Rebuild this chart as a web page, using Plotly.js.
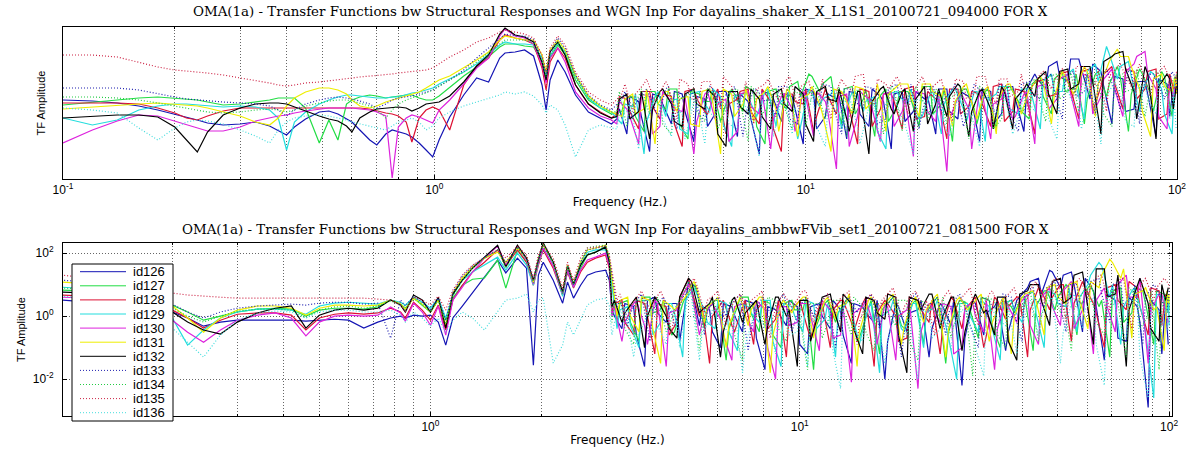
<!DOCTYPE html>
<html><head><meta charset="utf-8">
<script src="https://cdn.plot.ly/plotly-3.0.1.min.js"></script>
<style>html,body{margin:0;padding:0;background:#fff;}#chart{width:1190px;height:452px;}</style>
</head><body><div id="chart"></div>
<script>
// ---- series identity ----
const seriesNames = ['id126','id127','id128','id129','id130','id131','id132','id133','id134','id135','id136'];
const seriesColors = ['#1414b4','#22dd44','#dd1133','#22dddd','#dd22dd','#eeee00','#000000','#2020b0','#22cc44','#cc2244','#44dddd'];
const seriesDash = ['solid','solid','solid','solid','solid','solid','solid','1px,2px','1px,2px','1px,2px','1px,2px'];

// ---- axis ticks ----
const xTickVals = [0.1, 1, 10, 100];
const xTickText = ['10<sup>-1</sup>','10<sup>0</sup>','10<sup>1</sup>','10<sup>2</sup>'];
const xMinorTickVals = [0.2,0.3,0.4,0.5,0.6,0.7,0.8,0.9,2,3,4,5,6,7,8,9,20,30,40,50,60,70,80,90];
const yTickVals = [0.01, 1, 100];
const yTickText = ['10<sup>-2</sup>','10<sup>0</sup>','10<sup>2</sup>'];

const topTitle = 'OMA(1a) - Transfer Functions bw Structural Responses and WGN Inp For dayalins_shaker_X_L1S1_20100721_094000 FOR X';
const bottomTitle = 'OMA(1a) - Transfer Functions bw Structural Responses and WGN Inp For dayalins_ambbwFVib_set1_20100721_081500 FOR X';
const xAxisTitle = 'Frequency (Hz.)';
const yAxisTitle = 'TF Amplitude';

// ---- frequencies (Hz) ----
const freqTopLow = [0.1,0.12,0.14,0.16,0.18,0.2,0.215,0.23,0.245,0.27,0.3,0.33,0.36,0.38,0.4,0.42,0.45,0.49,0.52,0.55,0.58,0.6,0.63,0.67,0.7,0.74,0.77,0.8,0.84,0.87,0.91,0.95,0.99,1.03,1.1,1.2,1.3,1.4,1.5,1.55,1.65,1.75,1.85,1.95,2.0,2.05,2.15,2.25,2.4,2.6,2.8,3.0];
const freqBotLow = [0.1,0.12,0.14,0.16,0.18,0.2,0.22,0.243,0.27,0.3,0.34,0.38,0.42,0.46,0.5,0.55,0.6,0.66,0.72,0.78,0.83,0.855,0.9,0.95,1.0,1.05,1.1,1.15,1.22,1.3,1.4,1.52,1.6,1.72,1.82,1.9,1.96,2.02,2.15,2.28,2.35,2.44,2.55,2.66,2.8,2.98,3.05];
const freqNoiseA = [3.1,3.3,3.55,3.8,4.05,4.35,4.65,5.0,5.35,5.7,6.1,6.55,7.0,7.5,8.05,8.6,9.2,9.85,10.5,11.3,12.1,12.9,13.8,14.8,15.9,17.0,18.2,19.5,20.9,22.4,24.0,25.7,27.5,29.4,31.5,33.7,36.1,38.7,41.4,44.3,47.5,50.8,54.4,58.3,62.4,66.8,71.5,76.6,82.0,87.8,94.0,99.5];
const freqNoiseB = [3.2,3.42,3.67,3.93,4.2,4.5,4.82,5.17,5.52,5.9,6.32,6.78,7.25,7.77,8.32,8.9,9.52,10.2,10.9,11.7,12.5,13.35,14.3,15.35,16.45,17.6,18.85,20.2,21.65,23.2,24.85,26.6,28.45,30.45,32.6,34.9,37.4,40.0,42.85,45.9,49.1,52.6,56.3,60.3,64.6,69.1,74.0,79.3,84.9,90.9,97.0,100];
const freqNoiseC = [3.15,3.36,3.61,3.87,4.12,4.43,4.73,5.09,5.44,5.8,6.21,6.66,7.12,7.63,8.19,8.75,9.36,10.0,10.7,11.5,12.3,13.1,14.0,15.1,16.2,17.3,18.5,19.8,21.3,22.8,24.4,26.1,28.0,29.9,32.0,34.3,36.7,39.4,42.1,45.1,48.3,51.7,55.3,59.3,63.5,68.0,72.7,77.9,83.4,89.3,95.6,97.8];
const freqNoiseD = [3.26,3.48,3.73,4.0,4.27,4.58,4.9,5.26,5.62,6.0,6.43,6.9,7.38,7.91,8.46,9.05,9.69,10.4,11.1,11.9,12.7,13.6,14.5,15.6,16.7,17.9,19.2,20.6,22.0,23.6,25.3,27.1,28.9,31.0,33.2,35.5,38.1,40.7,43.6,46.7,50.0,53.5,57.3,61.3,65.7,70.3,75.3,80.7,86.4,92.5,98.7,99.7];

// ---- top panel (shaker), log10 of TF amplitude ----
const top126Low = [0.16,0.12,0.04,-0.08,-0.24,-0.4,-0.52,-0.64,-0.76,-0.84,-0.8,-0.72,-0.88,-1.08,-1.24,-0.92,-0.6,-0.32,-0.28,-0.4,-0.6,-0.72,-1.04,-1.44,-1.64,-1.2,-1.04,-1.12,-1.2,-1.32,-1.56,-1.84,-2.12,-1.44,-0.52,0.36,1.04,0.88,1.84,2.04,2.08,2.16,1.92,0.76,-0.24,0.96,1.76,1.28,0.36,-0.32,-0.56,-0.8];
const top127Low = [-0.04,0.08,0.16,0.24,0.28,0.24,0.2,0.16,0.08,-0.04,0,0.08,0.16,0.24,0.24,0.24,-0.16,-1.56,-0.64,-1.44,0,0.16,0.28,0.36,0.32,0.24,0.28,0.32,0.36,0.36,0.24,0.16,0.16,0.32,0.68,1.12,1.48,1.88,2.28,2.4,2.4,2.32,2.28,1.68,1.08,1.84,2.36,1.96,0.96,0.16,-0.16,-0.4];
const top128Low = [0.04,0.04,0.04,0,-0.16,-0.36,-0.56,-0.64,-0.48,-0.28,-0.16,-0.16,-0.16,-0.16,-0.16,-0.16,-0.16,-0.16,-0.16,-0.16,-0.16,-0.16,-0.16,-0.2,-0.28,-0.36,-0.4,-0.48,-0.72,-1.52,-0.56,-0.24,-0.12,-0.24,-1.04,0.76,1.52,1.84,2.56,2.76,2.64,2.56,2.4,1.44,0.56,1.68,2.24,1.84,0.76,0,-0.32,-0.56];
const top129Low = [-0.56,-0.84,-0.64,-0.24,-0.08,0,0,-0.04,-0.08,-0.12,-0.08,-0.12,-0.24,-0.56,-1.84,-0.72,-0.32,0,0.16,0.28,0.36,0.36,0.32,0.28,0.24,0.24,0.28,0.28,0.36,0.44,0.48,0.56,0.64,0.8,1.0,1.28,1.6,2.0,2.36,2.48,2.4,2.4,2.36,1.84,1.16,1.92,2.44,2.08,1.12,0.24,-0.16,-0.32];
const top130Low = [-1.56,-1.04,-0.68,-0.44,-0.48,-0.68,-0.84,-0.96,-1.08,-1.08,-0.92,-0.68,-0.56,-0.48,-0.44,-0.36,-0.28,-0.2,-0.16,-0.16,-0.16,-0.16,-0.2,-0.24,-0.32,-0.48,-2.96,-0.92,-0.56,-0.44,-0.52,-0.64,-0.76,-0.24,0.16,0.8,1.44,1.84,2.72,3.0,2.72,2.64,2.4,1.56,0.84,1.84,2.24,1.68,0.48,-0.16,-0.48,-0.64];
const top131Low = [-0.2,-0.12,-0.04,0,0.04,0,-0.04,-0.08,-0.16,-0.32,-0.48,-0.72,-0.84,-0.56,-0.08,0.24,0.48,0.64,0.64,0.56,0.4,0.16,-0.08,-0.16,-0.08,0.08,0.16,0.24,0.32,0.4,0.48,0.64,0.8,0.96,1.12,1.44,1.76,2.08,2.56,2.72,2.64,2.56,2.56,1.96,1.28,2.16,2.56,2.16,1.16,0.32,-0.08,-0.32];
const top132Low = [-0.56,-0.48,-0.44,-0.44,-0.52,-0.92,-1.44,-1.92,-1.12,-0.44,-0.16,0,0.04,0.04,0,-0.12,-0.28,-0.48,-0.6,-0.68,-0.88,-1.12,-0.56,-0.32,-0.2,-0.16,-0.12,-0.12,-0.16,-0.28,-0.16,0,0.04,0.08,0.32,0.88,1.52,1.96,2.8,3.04,2.76,2.68,2.48,1.68,0.96,2.08,2.48,1.96,0.76,0,-0.36,-0.56];
const top133Low = [0.64,0.64,0.64,0.56,0.4,0.28,0.2,0.16,0.12,0.08,0.04,0,-0.08,-0.24,-0.48,-0.24,0,0.16,0.24,0.28,0.24,0.2,0.12,0,-0.16,0,0.16,0.24,0.28,0.32,0.4,0.48,0.56,0.72,0.96,1.36,1.84,2.24,2.64,2.8,2.72,2.72,2.56,1.84,1.16,2.08,2.64,2.24,1.16,0.36,-0.04,-0.24];
const top134Low = [0.28,0.28,0.24,0.16,0.04,-0.08,-0.16,-0.24,-0.32,-0.36,-0.32,-0.24,-0.2,-0.24,-0.32,-0.24,-0.08,0.04,0.12,0.16,0.16,0.12,0.04,-0.08,-0.24,-0.56,-0.24,0,0.16,0.24,0.32,0.44,0.56,0.72,0.96,1.28,1.68,2.04,2.4,2.56,2.56,2.56,2.44,1.76,1.08,1.96,2.48,2.08,1.08,0.24,-0.08,-0.32];
const top135Low = [1.96,1.96,1.88,1.68,1.48,1.36,1.32,1.28,1.24,1.16,1.04,0.96,0.84,0.76,0.72,0.76,0.84,0.88,0.92,0.96,1.0,1.04,1.08,1.12,1.12,1.16,1.2,1.24,1.28,1.28,1.32,1.36,1.44,1.6,1.88,2.16,2.48,2.64,2.88,2.96,2.88,2.8,2.64,1.96,1.28,2.24,2.72,2.36,1.28,0.48,0.16,-0.04];
const top136Low = [-0.16,-0.24,-0.36,-0.96,-1.44,-0.96,-0.72,-0.64,-0.68,-0.8,-1.04,-1.28,-1.56,-1.04,-0.72,-0.56,-0.48,-0.44,-0.48,-0.56,-0.64,-0.72,-0.8,-0.88,-0.96,-1.04,-0.88,-0.72,-0.64,-0.56,-0.72,-1.04,-0.88,-0.56,-0.32,-0.08,0.08,0.24,0.36,0.48,0.4,0.48,0.32,-0.04,-0.36,-0.04,-0.24,-0.84,-2.12,-1.04,-0.84,-0.96];

const top126Noise = [-0.6,-1.2,0.1,-1.9,0.3,-0.8,0.4,-1.5,0.2,-0.4,0.5,-1.3,0.1,-2.0,0.4,-0.7,0.3,-1.6,0.5,-0.5,0.2,-1.4,0.4,-0.9,0.3,-1.8,0.5,-0.3,0.2,-1.2,0.6,-0.6,0.3,-1.5,0.5,-0.4,0.7,-1.1,1.2,0.6,1.7,0.9,1.8,0.2,1.3,-0.8,1.0,-0.2,0.9,-1.3,0.8,0.5];
const top127Noise = [-0.3,0.3,-1.1,0.5,-0.2,0.6,-1.4,0.4,0.1,-0.7,0.6,-0.3,0.5,-1.6,0.6,-0.2,0.9,1.2,0.5,1.1,-0.8,0.7,0.2,-1.3,0.6,-0.1,0.5,-0.9,0.7,0.0,-1.5,0.6,-0.2,0.5,-1.0,0.7,0.1,-0.6,1.1,-0.4,1.3,0.6,-0.8,1.2,0.3,1.5,-1.1,1.4,0.4,1.3,-0.5,1.2];
const top128Noise = [-0.4,0.2,-1.0,0.5,-0.6,0.3,-1.7,0.6,-0.3,0.4,-1.2,0.2,0.6,-0.8,0.1,-1.9,0.4,0.0,-1.1,0.6,-0.4,0.3,-1.6,0.5,-0.2,0.4,-1.0,0.7,-0.5,0.2,-1.4,0.6,-0.1,0.4,-0.9,0.8,-0.3,0.5,-1.2,1.0,0.4,1.3,-0.6,1.4,0.7,1.5,-0.2,1.3,0.6,1.4,-0.4,1.1];
const top129Noise = [-0.8,-0.1,-2.0,0.3,-0.5,0.2,-1.2,0.5,-0.3,0.3,-1.7,0.4,-0.2,0.5,-0.9,0.3,-1.4,0.6,-0.1,0.4,-1.0,0.5,-0.3,0.3,-1.8,0.5,0.0,-0.6,0.4,-1.2,0.6,-0.2,0.5,-1.5,0.4,0.7,-0.4,0.6,-1.0,1.2,0.5,1.4,-0.6,1.6,2.3,1.0,1.7,-0.3,1.3,0.6,-1.2,1.0];
const top130Noise = [-0.8,-0.2,-1.6,0.3,-0.9,0.1,-0.3,-2.0,0.4,-0.6,0.2,-1.1,0.5,-0.4,-1.8,0.3,-0.2,0.5,-1.3,0.1,-2.6,0.4,-0.5,0.2,-1.5,0.5,-0.3,-2.1,0.4,-0.7,-2.7,0.3,-0.2,0.6,-1.4,0.2,-0.6,0.4,-1.6,0.8,0.2,1.2,-0.9,1.1,0.3,1.4,-0.5,1.6,2.1,0.6,-1.0,0.9];
const top131Noise = [-0.5,0.4,-0.2,-1.6,0.5,-0.3,0.3,-0.9,0.6,-2.0,0.4,0.0,-0.7,0.5,-0.2,0.6,-1.3,0.4,0.0,-1.9,0.5,-0.4,0.6,0.2,-1.1,0.7,0.8,-0.5,0.8,0.3,-0.9,0.7,-0.3,0.6,-1.2,0.8,0.0,0.6,1.1,-0.8,1.3,0.4,1.5,-0.5,1.4,2.2,1.9,0.6,-1.3,1.2,0.5,1.0];
const top132Noise = [-0.5,0.4,-0.3,-1.4,0.5,0.0,-0.9,0.6,-0.2,0.3,-1.7,0.5,-0.4,0.2,-1.0,0.6,-0.3,0.4,-1.5,0.7,0.1,-0.6,0.5,-2.0,0.6,-0.2,0.5,-1.1,0.7,0.0,-0.5,0.8,-1.3,0.5,-0.2,0.7,-1.0,0.6,0.3,1.3,-0.4,1.4,0.8,1.5,-1.2,1.9,2.1,0.5,1.5,-1.4,1.2,0.7];
const top133Noise = [0.2,-0.6,0.5,-0.2,0.6,-1.0,0.4,-0.4,0.7,-0.1,0.5,-1.3,0.6,0.1,-0.5,0.7,-0.8,0.5,0.0,0.7,-1.2,0.6,-0.2,0.6,-0.6,0.8,0.1,-1.0,0.7,-0.3,0.6,-0.9,0.8,0.2,-0.5,0.7,-1.1,0.9,0.2,1.2,-0.6,1.3,0.5,-0.4,1.4,0.3,1.3,-0.8,1.2,0.5,1.3,0.4];
const top134Noise = [-0.3,-0.9,0.3,-0.4,0.5,-1.2,0.2,0.6,-0.7,0.3,-0.2,0.6,-1.5,0.4,0.0,0.5,-1.0,0.3,0.7,-0.6,0.4,-1.3,0.6,0.1,-0.5,0.7,-1.1,0.4,0.0,0.6,-0.8,0.5,-1.4,0.7,0.2,-0.6,0.6,-0.3,1.0,-0.7,1.2,0.5,-0.3,1.3,0.4,-0.9,1.2,0.6,-0.5,1.3,0.3,1.1];
const top135Noise = [0.4,-0.3,0.8,0.1,0.9,-0.6,0.8,0.2,0.9,-0.2,0.7,0.4,-0.8,0.8,0.3,1.0,-0.1,0.9,0.4,-0.6,1.0,0.5,1.2,0.0,0.8,1.1,-0.4,0.9,0.3,1.0,-0.7,0.9,0.4,1.1,0.0,1.0,0.5,-0.5,1.2,0.6,1.4,0.2,1.5,0.8,-0.3,1.5,0.9,1.6,0.3,1.4,0.8,1.2];
const top136Noise = [-1.0,-0.3,-1.8,-0.5,-0.1,-1.3,-0.4,0.1,-1.6,-0.5,0.0,-1.0,-0.3,-2.1,-0.2,0.2,-1.2,-0.4,0.1,-1.7,-0.3,0.2,-0.9,-0.1,-1.5,0.2,-0.6,-2.0,0.1,-0.4,-1.1,0.3,-0.2,-1.7,0.2,-0.5,-1.2,0.3,-0.3,0.8,-1.4,0.6,-0.2,0.9,-1.6,0.7,0.1,-0.9,0.8,-0.4,0.6,-1.0];

const top126Noise2 = [-0.2,0.3,-0.5,0.4,0.0,0.5,-0.3,0.3,-0.9,0.5,0.1,0.4,-0.6,0.5,0.2,0.4,-0.2,0.6,-1.0,0.4,0.3,0.5,-0.4,0.6,0.1,0.4,-0.7,0.5,0.3,0.6,-0.3,0.5,0.1,0.6,-0.8,0.7,0.2,0.6,1.0,1.5,1.1,1.8,1.4,1.6,0.7,1.1,-0.3,0.9,0.4,1.0,-0.5,0.8];
const top127Noise2 = [0.2,-0.5,0.5,0.0,0.6,-0.8,0.5,0.1,0.6,-0.3,0.4,0.7,-0.9,0.5,0.1,0.7,0.3,1.1,0.8,0.4,0.6,-0.4,0.6,0.2,-0.7,0.5,0.2,0.7,-0.4,0.6,0.1,0.6,-0.8,0.6,0.2,0.7,-0.3,0.8,0.3,1.0,0.5,1.2,0.2,1.3,0.8,1.1,0.4,1.2,-0.3,1.1,0.7,0.9];
const top128Noise2 = [0.3,-0.3,0.5,-0.1,0.4,-0.8,0.5,0.2,-0.4,0.6,0.0,0.5,-0.3,0.6,-1.0,0.4,0.1,0.6,-0.5,0.3,0.5,-0.2,0.6,-0.9,0.4,0.1,0.6,-0.6,0.5,0.2,0.6,-0.4,0.5,0.0,0.7,-0.7,0.6,0.2,0.9,0.3,1.2,0.6,1.3,-0.3,1.2,0.8,1.4,0.2,1.3,-0.6,1.2,0.6];
const top129Noise2 = [0.0,0.4,-0.7,0.5,0.1,-1.0,0.4,0.2,0.6,-0.8,0.3,0.5,-0.5,0.6,0.0,0.5,-0.9,0.4,0.2,0.6,-0.4,0.5,0.1,-1.1,0.4,0.3,0.6,-0.5,0.5,0.0,0.6,-0.7,0.5,0.2,0.7,-0.2,0.6,0.3,0.9,0.5,1.1,0.7,1.3,0.9,2.0,1.5,1.1,0.5,1.2,-0.4,1.1,0.6];
const top130Noise2 = [0.1,-0.5,0.4,-1.2,0.5,-0.2,0.3,-0.7,0.5,0.0,-1.5,0.4,-0.1,0.5,-0.6,0.4,-1.1,0.3,0.5,-0.4,0.3,-1.7,0.5,-0.2,0.4,-0.9,0.3,0.5,-0.3,0.4,-0.6,0.5,-1.8,0.4,0.0,0.6,-0.5,0.5,0.7,-0.2,1.0,0.4,1.2,-0.4,1.0,0.6,1.3,1.9,1.2,-0.5,0.8,0.3];
const top131Noise2 = [0.2,-0.4,0.6,0.0,0.5,0.2,-0.8,0.5,0.1,0.6,-0.5,0.6,0.2,0.7,-1.1,0.5,0.2,0.7,-0.4,0.6,0.3,0.7,-0.2,0.8,0.4,0.8,0.3,0.8,0.5,0.7,0.1,0.8,-0.6,0.7,0.3,0.8,-0.4,0.7,0.9,0.3,1.1,0.6,1.3,0.8,1.7,1.9,1.5,-0.3,1.0,0.7,1.1,0.4];
const top132Noise2 = [0.2,-0.6,0.5,-0.2,0.6,-0.7,0.4,0.0,0.6,-1.2,0.5,-0.1,0.6,-0.5,0.4,0.0,0.7,-0.8,0.5,0.2,0.6,-1.1,0.5,0.1,0.7,-0.4,0.6,0.2,-0.8,0.6,0.3,0.7,-0.3,0.6,-1.0,0.5,0.2,0.8,1.0,0.4,1.3,0.6,1.5,0.9,1.7,2.0,1.4,-0.6,1.2,0.7,1.0,-0.2];
const top133Noise2 = [0.5,0.0,0.6,-0.5,0.7,0.2,0.6,-0.7,0.6,0.3,0.7,-0.4,0.6,0.2,0.7,-0.6,0.6,0.3,0.8,-0.2,0.6,0.1,0.7,-0.8,0.6,0.3,0.8,-0.3,0.7,0.2,0.8,-0.5,0.7,0.3,0.8,-0.4,0.8,0.4,1.0,0.5,1.1,0.3,1.2,0.8,1.1,-0.2,1.3,0.6,1.2,0.2,1.1,0.8];
const top134Noise2 = [0.5,-0.2,0.6,0.1,-0.8,0.5,0.3,-0.3,0.6,-1.0,0.5,0.1,0.7,-0.4,0.6,-0.1,0.5,-0.9,0.6,0.2,0.7,-0.5,0.5,0.1,-1.2,0.6,0.3,0.7,-0.6,0.5,0.2,0.7,-0.5,0.6,-1.0,0.5,0.3,0.8,0.4,1.1,0.2,1.3,0.7,1.0,-0.4,1.2,0.5,1.4,0.1,1.2,0.6,1.0];
const top135Noise2 = [0.8,0.4,1.0,0.3,0.7,1.0,0.2,0.9,0.5,1.1,0.1,0.9,0.6,1.0,0.2,1.1,0.7,0.4,1.0,0.3,0.8,1.1,0.4,1.0,0.6,0.9,0.3,1.1,0.7,0.5,1.0,0.2,1.1,0.6,1.0,0.3,1.2,0.7,1.3,0.9,1.2,1.5,0.6,1.4,1.1,1.6,0.7,1.3,1.0,1.5,0.6,1.3];
const top136Noise2 = [-0.4,0.1,-0.9,0.2,-0.6,0.0,-1.4,0.2,-0.3,0.1,-0.8,0.3,-0.5,0.1,-1.3,0.2,-0.2,0.3,-0.9,0.1,-0.4,0.3,-1.6,0.2,-0.1,0.3,-0.8,0.2,-0.4,0.3,-1.3,0.2,-0.5,0.3,-0.2,0.4,-0.9,0.2,0.6,-0.6,0.8,0.2,-1.0,0.7,0.1,0.9,-0.7,0.6,0.2,0.8,-0.6,0.5];

// ---- bottom panel (ambient), log10 of TF amplitude ----
const bot126Low = [0.51,0.44,0.38,0.32,0.25,0.13,-0.06,-0.32,-0.19,-0.13,-0.13,-0.13,-0.13,-0.16,-0.13,-0.1,-0.13,-0.38,-0.19,-0.06,0,-0.06,0.03,0,0.03,-0.19,-0.92,-0.06,0.32,0.76,1.24,1.78,1.37,1.84,1.52,-1.56,1.3,1.71,1.14,0.41,1.08,0.57,0.98,1.3,1.4,1.46,1.14];
const bot127Low = [0.83,0.79,0.73,0.63,0.51,0.35,0.13,-0.13,0,0.13,0.22,0.25,0.22,0,0.19,0.25,0.25,0.22,0.29,0.51,0.38,0.25,0.57,0.35,0.13,0.51,-0.13,0.57,0.98,1.17,1.21,1.78,0.89,2.1,1.71,1.08,1.71,2.32,1.71,0.67,1.46,0.95,1.52,1.94,2.03,2.22,1.78];
const bot128Low = [0.67,0.63,0.57,0.48,0.35,0.19,-0.06,-0.38,-0.13,0.06,0.1,0.1,0.03,-0.44,-0.06,0.06,0.1,0.06,0.1,0.25,0.13,-0.06,0.44,0.19,-0.13,0.35,-0.44,0.51,0.98,1.4,1.71,2.1,1.59,2.1,1.71,0.98,1.62,2.1,1.52,0.67,1.4,0.89,1.4,1.71,1.84,1.94,1.52];
const bot129Low = [0.92,0.86,0.76,0.6,0.35,-0.06,-0.92,-0.44,-0.06,0.13,0.22,0.22,0.19,0.06,0.32,0.41,0.44,0.41,0.38,0.51,0.44,0.35,0.6,0.44,0.25,0.57,-0.06,0.67,1.14,1.4,1.62,1.87,1.46,2.0,1.62,0.98,1.68,2.16,1.62,0.63,1.46,0.92,1.62,2.03,2.1,2.1,1.71];
const bot130Low = [0.6,0.57,0.51,0.38,0.19,-0.13,-0.51,-0.83,-0.44,-0.13,0.03,0.1,-0.06,-0.63,-0.19,0,0.03,0,0.03,0.29,0.1,-0.16,0.41,0.13,-0.29,0.32,-0.6,0.51,0.92,1.4,1.84,2.22,1.62,2.22,1.78,1.02,1.71,2.16,1.59,0.7,1.46,0.92,1.46,1.78,1.87,2.0,1.59];
const bot131Low = [1.08,1.02,0.92,0.76,0.57,0.32,-0.06,-0.51,-0.06,0.19,0.32,0.32,0.25,0.03,0.25,0.35,0.35,0.32,0.35,0.51,0.38,0.22,0.57,0.38,0.13,0.51,-0.29,0.73,1.21,1.56,1.84,2.03,1.71,2.16,1.84,1.08,1.84,2.25,1.71,0.76,1.62,1.02,1.71,2.1,2.16,2.25,1.84];
const bot132Low = [0.76,0.73,0.67,0.54,0.38,0.13,-0.19,-0.44,-0.57,-0.19,0.1,0.25,0.32,-0.38,0.03,0.19,0.25,0.19,0.25,0.51,0.35,0.13,0.67,0.51,0.13,0.6,-0.38,0.7,1.14,1.52,1.87,2.25,1.56,2.25,1.84,1.14,1.78,2.32,1.71,0.76,1.59,1.02,1.62,1.94,2.03,2.19,1.71];
const bot133Low = [1.14,1.08,0.95,0.79,0.6,0.38,0.13,-0.06,0.13,0.25,0.32,0.35,0.38,0.35,0.41,0.44,0.44,0.38,0.41,-0.7,0.51,0.32,0.63,0.44,0.19,0.57,-0.13,0.76,1.27,1.59,1.87,2.1,1.71,2.16,1.84,1.14,1.84,2.22,1.71,0.76,1.59,0.98,1.71,2.1,2.16,2.22,1.84];
const bot134Low = [0.89,0.86,0.79,0.67,0.48,0.25,0,-0.19,0,0.16,0.22,0.22,0.19,-0.06,0.19,0.29,0.32,0.25,0.32,0.48,0.38,0.19,0.57,0.38,0.13,0.51,-0.25,0.63,1.14,1.52,1.84,2.1,1.52,2.19,1.78,1.05,1.78,2.29,1.68,0.7,1.59,1.02,1.71,2.16,2.22,2.25,1.9];
const bot135Low = [1.3,1.21,1.08,0.95,0.83,0.73,0.67,0.63,0.6,0.57,0.57,0.57,0.57,0.57,0.57,0.57,0.57,0.57,0.54,0.51,0.35,0.13,0.6,0.51,0.35,0.63,0.19,0.83,1.3,1.62,1.84,2.1,1.84,2.22,1.94,1.21,1.94,2.29,1.84,0.89,1.71,1.14,1.84,2.16,2.19,2.22,1.94];
const bot136Low = [0.63,0.57,0.44,0.25,0,-0.38,-0.83,-1.3,-0.6,-0.13,0.1,0.16,0.13,-0.06,0.13,0.19,0.19,0.13,0.13,0.19,0.03,-0.19,0.13,-0.06,-0.32,-0.06,-0.51,-0.13,0.13,-0.06,-0.44,0.13,0.51,0.57,0.7,0.13,0.51,0.57,-1.49,-0.92,-0.19,-0.6,-0.13,0.35,0.51,0.57,0.32];

const bot126Noise = [0.2,-0.4,0.3,-1.6,0.6,-0.2,0.4,1.1,-0.3,0.2,-1.0,0.3,-0.5,0.4,-1.7,0.2,-0.3,0.3,-1.2,0.4,-0.4,0.2,-1.5,0.3,-0.2,-2.0,0.4,-0.5,0.2,-1.3,0.4,-0.3,-2.2,0.5,-0.6,0.3,-1.1,0.5,0.9,1.2,1.45,0.9,1.4,-0.5,0.8,-1.4,0.5,-0.8,0.3,-2.9,0.2,-0.9];
const bot127Noise = [-0.2,0.5,-0.8,0.6,0.2,-0.6,0.4,1.0,-0.4,0.5,-1.4,0.3,0.6,-0.5,0.4,-1.0,0.5,0.2,-1.7,0.4,-0.2,0.5,-0.8,0.3,-1.2,0.5,-0.3,0.4,-0.9,0.5,-1.5,0.3,0.4,-0.7,0.5,-1.0,0.3,0.6,-1.1,0.8,0.2,1.0,-0.6,0.9,0.3,-1.3,0.9,0.1,0.8,-0.9,0.7,0.2];
const bot128Noise = [0.1,0.5,-0.6,0.4,-1.2,0.3,-0.2,1.2,0.0,-1.5,0.4,-0.3,0.3,-0.9,0.5,-0.1,-1.3,0.4,-0.4,0.3,-1.0,0.5,-0.2,0.4,-1.6,0.5,0.0,-0.7,0.5,-0.2,-1.2,0.6,-0.4,0.5,-1.0,0.6,-0.1,0.6,-1.3,0.9,0.2,1.0,-0.8,1.1,0.4,-1.0,1.0,0.2,0.9,-0.6,0.8,0.1];
const bot129Noise = [-0.4,0.3,-1.0,0.5,-0.2,0.4,-1.3,0.9,0.2,-0.4,0.4,-1.1,0.3,-0.2,0.5,-1.6,0.3,-0.5,0.4,-0.1,-1.3,0.4,-0.6,0.3,-1.8,0.2,-0.4,0.4,-1.0,0.3,-0.3,-2.0,0.4,-0.5,0.3,-1.4,0.5,-0.2,0.8,-1.0,0.7,0.3,-0.5,1.0,1.7,0.6,-0.9,0.8,0.0,-2.6,0.6,-0.3];
const bot130Noise = [0.0,-0.8,0.4,-0.3,0.5,-1.6,0.2,1.0,-0.6,0.3,-0.1,-1.4,0.4,-0.5,0.2,-2.0,0.3,-0.2,0.4,-1.1,0.2,-0.6,-2.1,0.3,-0.3,0.4,-1.4,0.2,-2.3,0.4,-0.2,0.3,-1.0,0.4,-0.5,-1.7,0.5,-0.2,0.7,-0.9,0.9,-0.3,1.1,0.2,-1.2,0.9,-0.5,1.3,0.6,-1.5,0.7,-0.2];
const bot131Noise = [0.0,0.6,-0.5,0.5,-1.5,0.3,0.5,1.1,-0.2,0.5,-1.0,0.4,-0.3,0.6,-1.8,0.4,0.1,0.6,-0.7,0.5,-0.1,0.4,-1.6,0.5,0.0,0.6,-0.9,0.5,-0.2,0.6,-1.3,0.5,0.2,0.6,-0.8,0.4,-1.2,0.6,0.8,-0.6,1.0,0.4,1.1,-0.4,0.9,1.8,1.2,-0.7,0.8,0.2,-1.1,0.7];
const bot132Noise = [0.3,-0.2,0.5,-1.0,0.6,0.0,-0.7,1.2,0.1,0.4,-1.3,0.5,-0.2,0.4,-0.9,0.6,0.0,-1.6,0.5,0.2,0.7,-0.5,0.4,-1.2,0.5,-0.1,0.6,-1.8,0.5,0.7,-0.4,0.6,-1.1,0.5,0.1,-0.6,0.6,-1.4,0.8,1.0,-0.3,1.2,0.6,1.4,-0.9,1.5,0.7,-1.6,1.0,0.4,-0.8,0.9];
const bot133Noise = [0.3,-0.3,0.6,-0.8,0.5,0.1,0.6,1.0,-0.6,0.5,0.0,0.6,-1.1,0.4,0.1,0.6,-0.5,0.5,0.0,0.6,-1.0,0.5,0.1,0.6,-0.4,0.5,-1.3,0.6,0.2,0.5,-0.6,0.6,0.1,-1.0,0.5,0.2,0.6,-0.8,0.9,0.3,1.1,-0.5,1.0,0.5,1.2,-0.2,1.1,0.4,-0.9,1.0,0.3,0.8];
const bot134Noise = [-0.2,0.4,-0.9,0.5,0.1,-0.5,0.4,1.1,-1.1,0.4,0.0,0.5,-1.4,0.3,-0.3,0.5,-0.8,0.3,-1.7,0.4,0.0,0.5,-0.6,0.3,-1.1,0.4,-0.3,0.5,-1.4,0.3,0.0,-0.7,0.4,-1.9,0.3,0.5,-1.0,0.4,0.6,-0.8,0.8,0.1,-1.1,0.7,0.3,-0.6,0.8,-1.3,0.6,0.0,-1.7,0.5];
const bot135Noise = [0.5,-0.1,0.7,0.2,0.8,-0.5,0.6,1.2,0.1,0.7,-0.3,0.6,0.2,0.7,-0.7,0.6,0.3,0.8,-0.2,0.6,0.1,0.7,-0.9,0.6,0.3,0.8,0.0,0.7,0.2,-0.6,0.7,0.3,0.8,-0.3,0.7,0.2,0.8,0.0,1.0,0.4,1.2,-0.2,1.1,0.6,1.3,0.2,1.2,-0.4,1.1,0.5,1.2,0.9];
const bot136Noise = [-0.6,0.1,-1.3,-0.2,0.2,-0.9,-0.1,0.8,-1.4,-0.2,0.1,-0.7,-1.8,0.0,-0.4,-1.2,0.1,-0.5,-1.6,0.0,-0.3,-2.3,0.1,-0.8,-0.2,-1.5,0.2,-0.6,-2.0,0.1,-0.4,-1.1,0.2,-0.5,-1.9,0.1,-0.3,-1.2,0.3,-0.6,0.5,-1.5,0.4,-0.4,0.6,-2.2,0.3,-0.7,0.5,-2.6,0.2,-0.5];

const bot126Noise2 = [0.0,0.4,-0.6,0.5,0.1,0.4,-0.8,0.9,0.3,-0.5,0.4,0.0,0.5,-0.7,0.3,0.1,0.5,-0.9,0.3,0.0,0.5,-0.6,0.4,0.1,0.5,-0.8,0.3,0.1,0.5,-0.4,0.3,0.5,-0.7,0.4,0.1,0.5,-0.5,0.6,1.1,0.7,1.4,1.3,1.0,1.2,0.3,0.7,-0.7,0.6,-0.2,0.5,-1.2,0.4];
const bot127Noise2 = [0.4,-0.2,0.6,0.1,0.5,-0.5,0.6,0.8,0.2,0.5,-0.4,0.6,0.1,0.5,-0.6,0.4,0.2,0.6,-0.3,0.5,0.1,0.6,-0.7,0.5,0.2,0.6,-0.4,0.5,0.1,0.6,-0.5,0.5,0.2,0.6,-0.3,0.5,0.1,0.6,0.3,0.8,0.6,0.9,0.2,1.0,0.5,0.8,-0.2,0.9,0.4,0.8,0.1,0.6];
const bot128Noise2 = [0.4,-0.2,0.5,0.0,0.4,-0.6,0.6,0.8,0.3,0.0,0.5,-0.5,0.5,0.2,-0.4,0.5,0.1,0.5,-0.7,0.4,0.2,0.5,-0.5,0.6,0.1,0.4,-0.8,0.6,0.2,0.5,-0.3,0.5,0.2,0.6,-0.6,0.5,0.3,0.6,0.2,0.8,0.6,1.0,0.4,0.9,0.1,0.9,0.5,1.1,0.3,0.9,-0.3,0.7];
const bot129Noise2 = [0.2,-0.3,0.5,-0.6,0.4,0.1,0.5,0.7,-0.2,0.5,-0.5,0.4,0.1,0.5,-0.8,0.4,0.0,0.5,-0.4,0.4,0.1,0.5,-0.9,0.4,0.0,0.5,-0.5,0.4,0.1,0.5,-0.7,0.4,0.0,0.5,-0.4,0.4,0.2,0.6,0.1,0.8,0.4,0.9,0.6,1.3,1.6,1.0,0.3,0.9,-0.5,0.7,0.1,0.5];
const bot130Noise2 = [0.3,-0.2,0.5,-0.9,0.4,0.1,0.5,0.8,-0.2,0.4,-0.6,0.3,0.0,0.5,-1.0,0.3,-0.3,0.4,0.0,0.5,-0.7,0.3,0.1,0.5,-0.9,0.3,0.0,0.5,-0.5,0.3,0.4,-1.2,0.3,0.0,0.5,-0.4,0.3,0.4,-0.3,0.6,0.3,0.8,-0.4,0.9,0.5,0.3,1.0,0.6,1.2,0.2,0.7,0.1];
const bot131Noise2 = [0.5,0.0,0.6,-0.4,0.5,0.2,0.6,0.9,0.3,0.6,-0.3,0.6,0.2,0.6,-0.6,0.5,0.3,0.6,-0.2,0.6,0.3,0.7,-0.5,0.6,0.3,0.7,-0.3,0.6,0.2,0.7,-0.4,0.6,0.3,0.7,-0.2,0.6,0.0,0.7,0.5,0.9,0.6,1.0,0.5,1.1,1.3,1.7,1.5,0.7,0.9,0.3,0.8,0.4];
const bot132Noise2 = [0.5,0.1,0.6,0.0,0.5,-0.4,0.6,1.1,0.2,0.6,-0.5,0.6,0.1,0.5,-0.3,0.6,0.2,0.5,-0.8,0.6,0.3,0.7,-0.4,0.6,0.1,0.7,-0.6,0.6,0.2,0.7,0.0,0.6,-0.5,0.7,0.2,0.6,-0.8,0.7,1.0,0.5,1.1,0.4,1.3,0.8,1.5,0.6,1.3,0.2,1.2,-0.4,1.0,0.5];
const bot133Noise2 = [0.5,0.1,0.7,0.2,0.6,-0.3,0.7,0.9,0.2,0.6,0.3,0.7,-0.4,0.6,0.2,0.7,-0.2,0.6,0.3,0.7,-0.3,0.6,0.3,0.7,0.0,0.6,-0.5,0.7,0.3,0.6,0.1,0.7,-0.3,0.6,0.3,0.7,0.1,0.8,0.5,0.9,0.7,1.0,0.4,1.1,0.7,1.0,0.3,1.0,0.6,0.9,0.2,0.8];
const bot134Noise2 = [0.4,-0.4,0.5,0.0,0.6,-0.3,0.5,0.9,-0.2,0.5,0.2,-0.6,0.4,0.1,0.6,-0.4,0.5,0.0,0.4,-0.7,0.5,0.2,0.6,-0.5,0.4,0.1,0.5,-0.8,0.5,0.2,0.6,-0.3,0.5,0.0,0.6,-0.6,0.5,0.2,0.8,0.0,0.9,0.5,0.2,0.9,-0.2,0.8,0.4,0.9,-0.4,0.8,0.2,0.7];
const bot135Noise2 = [0.7,0.3,0.8,0.4,0.6,0.1,0.8,1.0,0.5,0.8,0.2,0.7,0.5,0.8,0.0,0.7,0.4,0.8,0.2,0.7,0.5,0.8,-0.2,0.7,0.5,0.9,0.3,0.8,0.5,0.2,0.8,0.5,0.9,0.1,0.8,0.5,0.9,0.4,1.1,0.8,1.2,0.6,1.2,0.9,1.3,0.7,1.2,0.5,1.2,0.9,1.1,1.0];
const bot136Noise2 = [-0.2,0.3,-0.7,0.2,-0.3,0.3,-1.0,0.6,-0.5,0.2,-0.3,0.2,-0.9,0.3,0.0,0.2,-0.6,0.3,-0.2,0.2,-1.1,0.3,-0.4,0.2,0.0,-0.8,0.3,-0.1,0.2,-0.7,0.3,-0.3,0.2,-1.0,0.3,-0.1,0.3,-0.6,0.5,0.1,0.6,-0.5,0.7,0.2,-0.9,0.6,-0.2,0.5,-1.3,0.4,-0.3,0.3];

// ---- assemble ----
const topLow = [top126Low,top127Low,top128Low,top129Low,top130Low,top131Low,top132Low,top133Low,top134Low,top135Low,top136Low];
const topNoise = [top126Noise,top127Noise,top128Noise,top129Noise,top130Noise,top131Noise,top132Noise,top133Noise,top134Noise,top135Noise,top136Noise];
const topNoise2 = [top126Noise2,top127Noise2,top128Noise2,top129Noise2,top130Noise2,top131Noise2,top132Noise2,top133Noise2,top134Noise2,top135Noise2,top136Noise2];
const botLow = [bot126Low,bot127Low,bot128Low,bot129Low,bot130Low,bot131Low,bot132Low,bot133Low,bot134Low,bot135Low,bot136Low];
const botNoise = [bot126Noise,bot127Noise,bot128Noise,bot129Noise,bot130Noise,bot131Noise,bot132Noise,bot133Noise,bot134Noise,bot135Noise,bot136Noise];
const botNoise2 = [bot126Noise2,bot127Noise2,bot128Noise2,bot129Noise2,bot130Noise2,bot131Noise2,bot132Noise2,bot133Noise2,bot134Noise2,bot135Noise2,bot136Noise2];
const noiseFreq1 = i => (i % 2 === 0 ? freqNoiseA : freqNoiseB);
const noiseFreq2 = i => (i % 2 === 0 ? freqNoiseC : freqNoiseD);

function series(fLow, vLow, f1, v1, f2, v2) {
  const pts = f1.map((f, k) => [f, v1[k]]).concat(f2.map((f, k) => [f, v2[k]]));
  pts.sort((a, b) => a[0] - b[0]);
  return {
    x: fLow.concat(pts.map(p => p[0])),
    y: vLow.concat(pts.map(p => p[1])).map(v => Math.pow(10, v))
  };
}

const LW = 1.2;
const traces = [];
seriesNames.forEach((name, i) => {
  const s = series(freqTopLow, topLow[i], noiseFreq1(i), topNoise[i], noiseFreq2(i), topNoise2[i]);
  traces.push({type:'scatter', mode:'lines', name, showlegend:false, xaxis:'x', yaxis:'y',
    x:s.x, y:s.y, line:{color:seriesColors[i], width:LW, dash:seriesDash[i]}});
});
seriesNames.forEach((name, i) => {
  const s = series(freqBotLow, botLow[i], noiseFreq1(i), botNoise[i], noiseFreq2(i), botNoise2[i]);
  traces.push({type:'scatter', mode:'lines', name, showlegend:false, xaxis:'x2', yaxis:'y2',
    x:s.x, y:s.y, line:{color:seriesColors[i], width:LW, dash:seriesDash[i]}});
});

// ---- geometry helpers (pixel -> paper) ----
const W = 1190, H = 452, ML = 63, MR = 13, MT = 27, MB = 36;
const PW = W - ML - MR, PH = H - MT - MB;
const px = x => (x - ML) / PW;
const py = y => 1 - (y - MT) / PH;

const sans = 'Liberation Sans, Arial, sans-serif';
const sansWide = 'DejaVu Sans, sans-serif';
const serif = 'DejaVu Serif, serif';
const gridColor = '#666';
const gridDash = '1px,2px';
const xCommon = {type:'log', tickmode:'array', tickvals:xTickVals, ticktext:xTickText,
  ticks:'inside', ticklen:4, tickcolor:'#000', showline:true, linecolor:'#000', linewidth:1, mirror:'ticks',
  zeroline:false, tickfont:{family:sans, size:12, color:'#000'}, automargin:false,
  showgrid:true, gridcolor:gridColor, griddash:gridDash, gridwidth:1,
  minor:{tickmode:'array', tickvals:xMinorTickVals, ticks:'inside', ticklen:2, tickcolor:'#000',
    showgrid:true, gridcolor:gridColor, griddash:gridDash, gridwidth:1}};

const shapes = [];
const annotations = [];
// legend drawn inside the lower axes
shapes.push({type:'rect', xref:'paper', yref:'paper', x0:px(72), x1:px(173), y0:py(421), y1:py(264),
  fillcolor:'#fff', line:{color:'#000', width:1}, layer:'above'});
seriesNames.forEach((name, i) => {
  const yy = py(271.7 + 14.1 * i);
  shapes.push({type:'line', xref:'paper', yref:'paper', x0:px(80), x1:px(126), y0:yy, y1:yy,
    line:{color:seriesColors[i], width:1, dash:seriesDash[i]}, layer:'above'});
  annotations.push({xref:'paper', yref:'paper', x:px(131), y:yy, xanchor:'left', yanchor:'middle',
    text:name, showarrow:false, font:{family:sans, size:13, color:'#000'}});
});
annotations.push({xref:'paper', yref:'paper', x:px(620), y:py(12), xanchor:'center', yanchor:'middle',
  text:topTitle, showarrow:false, font:{family:serif, size:13.4, color:'#000'}});
annotations.push({xref:'paper', yref:'paper', x:px(615), y:py(229), xanchor:'center', yanchor:'middle',
  text:bottomTitle, showarrow:false, font:{family:serif, size:13.4, color:'#000'}});

const layout = {
  width: W, height: H, margin:{l:ML, r:MR, t:MT, b:MB},
  paper_bgcolor:'#fff', plot_bgcolor:'#fff', showlegend:false,
  font:{family:sans, color:'#000'},
  xaxis: Object.assign({}, xCommon, {domain:[0,1], range:[-1,2], anchor:'y',
    title:{text:xAxisTitle, font:{family:sansWide, size:12, color:'#000'}, standoff:1}}),
  yaxis: {domain:[py(179),1], type:'log', range:[-3,3.08], showticklabels:false, ticks:'', showgrid:false,
    showline:true, linecolor:'#000', linewidth:1, mirror:true, zeroline:false, automargin:false, anchor:'x',
    title:{text:yAxisTitle, font:{family:sans, size:11, color:'#000'}, standoff:14}},
  xaxis2: Object.assign({}, xCommon, {domain:[0,px(1172)], range:[-0.995,2.008], anchor:'y2',
    title:{text:xAxisTitle, font:{family:sansWide, size:12, color:'#000'}, standoff:2}}),
  yaxis2: {type:'log', domain:[0, py(243)], range:[-3.17,2.32], tickmode:'array', tickvals:yTickVals,
    ticktext:yTickText, ticks:'inside', ticklen:4, tickcolor:'#000', showline:true, linecolor:'#000', linewidth:1,
    mirror:'ticks', zeroline:false, automargin:false, anchor:'x2', tickfont:{family:sans, size:12, color:'#000'},
    ticklabelstandoff:6,
    showgrid:true, gridcolor:gridColor, griddash:gridDash, gridwidth:1,
    title:{text:yAxisTitle, font:{family:sans, size:11, color:'#000'}, standoff:4}},
  shapes, annotations
};

Plotly.newPlot('chart', traces, layout, {staticPlot:true, displayModeBar:false});
</script></body></html>
